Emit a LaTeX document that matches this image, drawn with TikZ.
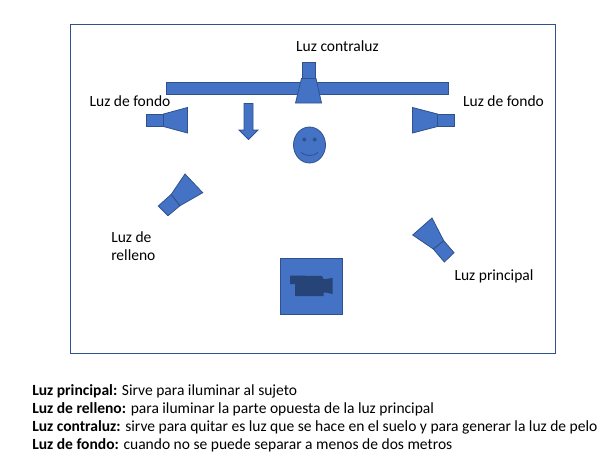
\documentclass[tikz,border=0pt]{standalone}
\usepackage{fontspec}
\setmainfont{Carlito}
\usepackage{xcolor}
\definecolor{lampfill}{HTML}{4472C4}
\definecolor{lampline}{HTML}{2F528F}
\definecolor{camdark}{HTML}{264478}
\tikzset{
  lamp/.style={draw=lampline, fill=lampfill, line width=0.6pt, line join=miter},
  lbl/.style={inner sep=0pt, font=\fontsize{11.65}{13.5}\selectfont, align=left},
}

\begin{document}
\begin{tikzpicture}[x=0.75pt, y=-0.75pt]

    \useasboundingbox (0, 0) rectangle (609, 457);

    \draw [lampline, line width=0.75pt] (70.5, 24.5) rectangle (555, 353);

    % back bar and top light
    \draw [lamp] (166, 82) rectangle (448, 94);
    \draw [lamp] (302.5, 62) rectangle (315.5, 78.5);
    \draw [lamp] (301.5, 78.5) -- (316, 78.5) -- (321.5, 103) -- (295.5, 103) -- cycle;

    % side lights
    \draw [lamp] (146.5, 114) rectangle (163.5, 126.5);
    \draw [lamp] (163.5, 114) -- (187.5, 107.5) -- (187.5, 133) -- (163.5, 126.5) -- cycle;
    \draw [lamp] (437.5, 114) rectangle (454.5, 126.5);
    \draw [lamp] (437.5, 114) -- (412.5, 107.5) -- (412.5, 133) -- (437.5, 126.5) -- cycle;

    % arrow
    \draw [lamp] (244, 103.5) -- (253, 103.5) -- (253, 130) -- (258, 130)
      -- (248.5, 139.5) -- (239, 130) -- (244, 130) -- cycle;

    % face
    \draw [lamp] (309.5, 145) ellipse [x radius=16, y radius=18];
    \fill [lampline] (304.3, 139.5) circle [radius=2];
    \fill [lampline] (314.7, 139.5) circle [radius=2];
    \draw [lampline, line width=0.6pt] (301, 152.5) .. controls (305, 156.5) and (314, 156.5) .. (318, 152.5);

    % fill light
    \draw [lamp] (171.3, 194.3) -- (180, 205.7) -- (168, 215.7) -- (158.3, 206) -- cycle;
    \draw [lamp] (185, 174) -- (202.7, 192.7) -- (180, 205.7) -- (171.3, 194.3) -- cycle;

    % main light
    \draw [lamp] (433.3, 249) -- (443.7, 240.7) -- (454, 252.7) -- (444.3, 262) -- cycle;
    \draw [lamp] (432, 218) -- (443.7, 240.7) -- (433.3, 249) -- (412.7, 235) -- cycle;

    % camera
    \draw [lamp] (280, 258.5) rectangle (342.5, 314.5);
    \fill [camdark] (290, 275.5) -- (322, 276) -- (323.5, 279) -- (326, 279) -- (332.5, 278)
      -- (332.5, 294) -- (326, 292.5) -- (323.5, 292.5) -- (323.5, 296) -- (295, 296)
      -- (295, 284) -- (290, 284) -- cycle;

    % labels
    \node [lbl, anchor=base] (contraluz) at (337.5, 51.7) {Luz contraluz};
    \node [lbl, anchor=base] (fondoizq) at (130, 106) {Luz de fondo};
    \node [lbl, anchor=base] (fondoder) at (503.5, 106) {Luz de fondo};
    \node [lbl, anchor=base west] (relleno) at (111, 242) {Luz de};
    \node [lbl, anchor=base west] (relleno2) at (111, 260) {relleno};
    \node [lbl, anchor=base] (principal) at (494, 280) {Luz principal};

    \node [lbl, anchor=base west] (notaprincipal) at (32, 395) {\textbf{Luz principal:} Sirve para iluminar al sujeto};
    \node [lbl, anchor=base west] (notarelleno) at (32, 413) {\textbf{Luz de relleno:} para iluminar la parte opuesta de la luz principal};
    \node [lbl, anchor=base west] (notacontraluz) at (32, 431.5) {\textbf{Luz contraluz:} sirve para quitar es luz que se hace en el suelo y para generar la luz de pelo};
    \node [lbl, anchor=base west] (notafondo) at (32, 449.5) {\textbf{Luz de fondo:} cuando no se puede separar a menos de dos metros};

\end{tikzpicture}
\end{document}
